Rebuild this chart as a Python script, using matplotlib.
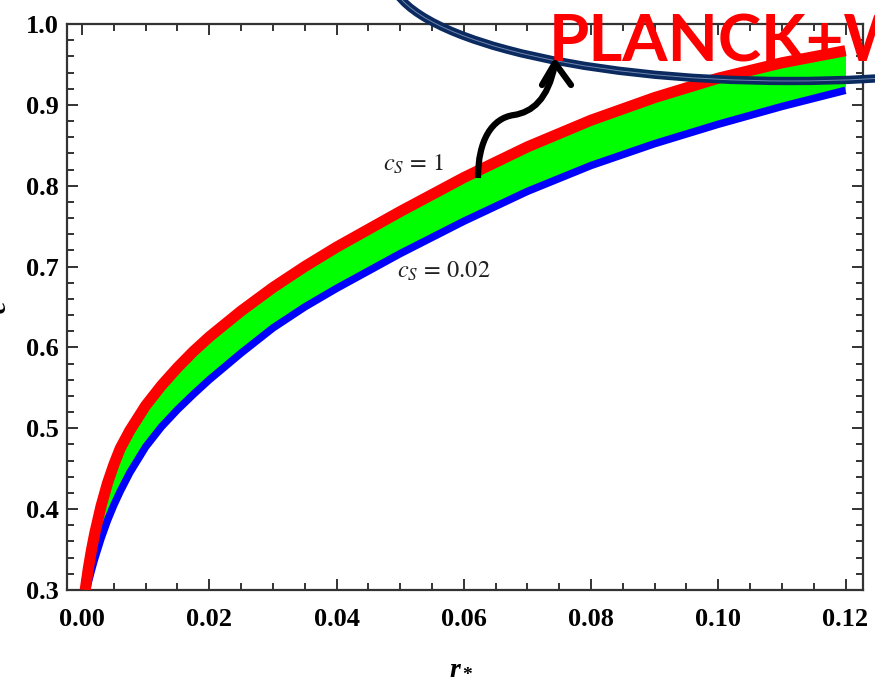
import matplotlib
matplotlib.use("Agg")
import matplotlib.pyplot as plt
import matplotlib.patches as mpatches
import matplotlib.transforms as mtransforms
from matplotlib.path import Path
from matplotlib.ticker import MultipleLocator
import numpy as np

# upper boundary (c_S = 1)
r_red = [0.0005, 0.001, 0.0015, 0.002, 0.003, 0.004, 0.005, 0.006, 0.0075,
         0.01, 0.0125, 0.015, 0.0175, 0.02, 0.025, 0.03, 0.035, 0.04, 0.05,
         0.06, 0.07, 0.08, 0.09, 0.10, 0.11, 0.12]
c_red = [0.300, 0.327, 0.350, 0.370, 0.404, 0.432, 0.455, 0.475, 0.497,
         0.528, 0.553, 0.575, 0.595, 0.613, 0.645, 0.674, 0.700, 0.724, 0.768,
         0.810, 0.848, 0.881, 0.909, 0.933, 0.952, 0.967]

# lower boundary (c_S = 0.02)
r_blue = [0.0007, 0.001, 0.0015, 0.002, 0.003, 0.004, 0.005, 0.006, 0.0075,
          0.01, 0.0125, 0.015, 0.0175, 0.02, 0.025, 0.03, 0.035, 0.04, 0.05,
          0.06, 0.07, 0.08, 0.09, 0.10, 0.11, 0.12]
c_blue = [0.300, 0.310, 0.325, 0.339, 0.364, 0.386, 0.405, 0.422, 0.445,
          0.477, 0.502, 0.523, 0.542, 0.560, 0.593, 0.624, 0.650, 0.673, 0.716,
          0.756, 0.793, 0.825, 0.852, 0.876, 0.898, 0.918]

xticks = [0.00, 0.02, 0.04, 0.06, 0.08, 0.10, 0.12]
yticks = [0.3, 0.4, 0.5, 0.6, 0.7, 0.8, 0.9, 1.0]

plt.rcParams['font.family'] = 'Liberation Serif'
plt.rcParams['mathtext.fontset'] = 'custom'
plt.rcParams['mathtext.it'] = 'Liberation Serif:bold:italic'
plt.rcParams['mathtext.rm'] = 'Liberation Serif:bold'

W, H = 875, 684
fig = plt.figure(figsize=(W / 100, H / 100), dpi=100)
ax = fig.add_axes([67 / W, 1 - 590 / H, (863 - 67) / W, (590 - 24) / H])

# green band between the two curves
r_fill = np.array(r_red)
ax.fill_between(r_fill, np.interp(r_fill, r_blue, c_blue), c_red,
                color='#00ff00', lw=0, zorder=1)
ax.plot(r_blue, c_blue, color='#0000ff', lw=5.4, solid_capstyle='butt',
        solid_joinstyle='round', zorder=2)
ax.plot(r_red, c_red, color='#ff0000', lw=8.0, solid_capstyle='butt',
        solid_joinstyle='round', zorder=3)

ax.text(0.0473, 0.819, r'$c_S\,=\,1$', fontsize=17.5, color='#222222',
        math_fontfamily='stix', ha='left', va='baseline')
ax.text(0.0495, 0.686, r'$c_S\,=\,0.02$', fontsize=17.5, color='#222222',
        math_fontfamily='stix', ha='left', va='baseline')

ax.set_xlim(-0.00236, 0.12275)
ax.set_ylim(0.3, 1.0)
ax.set_xticks(xticks)
ax.set_xticklabels(['%.2f' % v for v in xticks])
ax.set_yticks(yticks)
ax.set_yticklabels(['%.1f' % v for v in yticks])
ax.xaxis.set_minor_locator(MultipleLocator(0.005))
ax.yaxis.set_minor_locator(MultipleLocator(0.02))
ax.tick_params(which='both', direction='in', top=True, right=True,
               width=1.4, color='#333333')
ax.tick_params(which='major', length=8)
ax.tick_params(which='minor', length=5)
ax.tick_params(axis='x', pad=13, labelsize=19)
ax.tick_params(axis='y', pad=6, labelsize=19)
for lbl in ax.get_xticklabels() + ax.get_yticklabels():
    lbl.set_fontweight('bold')
for sp in ax.spines.values():
    sp.set_linewidth(1.6)
    sp.set_color('#333333')

ax.set_xlabel(r'$r_*$', fontsize=20)
ax.xaxis.set_label_coords(0.496, -0.115)
ax.set_ylabel('c', fontsize=21, fontweight='bold', fontstyle='italic')
ax.yaxis.set_label_coords(-0.069, 0.5)

# overlay drawn in pixel units measured from the top-left corner
pix = mtransforms.Affine2D().scale(1 / W, -1 / H).translate(0, 1) + fig.transFigure

ring = mpatches.Ellipse((790, -26), 800, 214, fill=False, ec='#0b2a60',
                        lw=6.0, transform=pix, zorder=10)
fig.add_artist(ring)
ring_inner = mpatches.Ellipse((790, -26), 800, 214, fill=False, ec='#6f86b0',
                              lw=0.7, transform=pix, zorder=11)
fig.add_artist(ring_inner)

fig.text(549 / W, 1 - 61 / H, 'PLANCK+W', color='#ff0000', fontsize=47,
         fontweight='bold', family='Lato', va='baseline', ha='left', zorder=12)

verts = [(478, 178), (478, 140), (492, 118), (514, 115),
         (532, 112), (548, 100), (555, 64)]
codes = [Path.MOVETO, Path.CURVE4, Path.CURVE4, Path.CURVE4,
         Path.CURVE4, Path.CURVE4, Path.CURVE4]
fig.add_artist(mpatches.PathPatch(Path(verts, codes), fill=False, ec='black',
                                  lw=4.5, capstyle='butt', transform=pix, zorder=13))
head = Path([(542, 85), (555, 63), (571, 85)], [Path.MOVETO, Path.LINETO, Path.LINETO])
fig.add_artist(mpatches.PathPatch(head, fill=False, ec='black', lw=4.5,
                                  capstyle='round', joinstyle='round',
                                  transform=pix, zorder=13))

fig.savefig('out.png', dpi=100)
